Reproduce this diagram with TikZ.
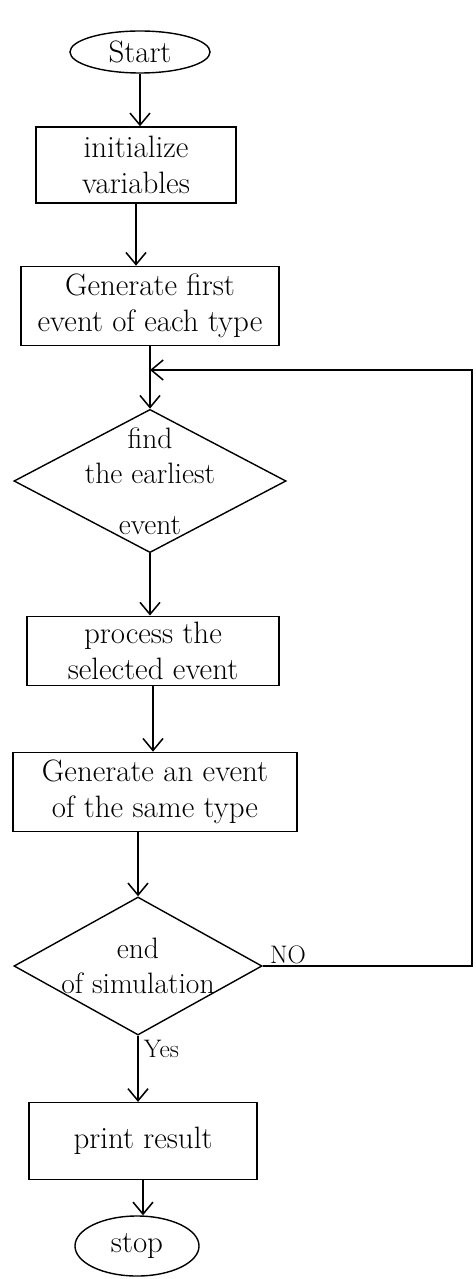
\documentclass[tikz,border=0pt]{standalone}
\usepackage{fontspec}
\usepackage{tikz}
\usetikzlibrary{positioning,arrows.meta,shapes.geometric}

\begin{document}
\begin{tikzpicture}[
    x=0.025cm, y=-0.025cm,
    terminal/.style={ellipse, draw, line width=1pt, inner sep=0pt, font=\fontsize{22}{26}\selectfont},
    process/.style={rectangle, draw, line width=1pt, align=center, inner sep=4pt, font=\fontsize{22}{26}\selectfont},
    decision/.style={diamond, draw, line width=1pt, inner sep=0pt},
    dtext/.style={align=center, inner sep=0pt, font=\fontsize{21}{25}\selectfont},
    flow/.style={line width=1.1pt, -{Straight Barb[length=3mm,width=5mm]}},
    lbl/.style={inner sep=1pt, font=\fontsize{18}{21}\selectfont},
  ]
  \useasboundingbox (0,0) rectangle (475,1279);

  % Terminals
  \node[terminal, minimum width=3.5cm, minimum height=1.05cm] (start) at (140,52) {Start};
  \node[terminal, minimum width=3.1cm, minimum height=1.5cm]  (stop)  at (137,1246) {stop};

  % Process boxes
  \node[process, minimum width=5cm,    minimum height=1.9cm]  (init)  at (136,165)  {initialize\\variables};
  \node[process, minimum width=6.45cm, minimum height=1.98cm] (first) at (150,306)  {Generate first\\event of each type};
  \node[process, minimum width=6.3cm,  minimum height=1.72cm] (proc)  at (153,651)  {process the\\selected event};
  \node[process, minimum width=7.1cm,  minimum height=1.98cm] (next)  at (155,792)  {Generate an event\\of the same type};
  \node[process, minimum width=5.7cm,  minimum height=1.92cm] (print) at (143,1141) {print result};

  % Decisions
  \node[decision, minimum width=6.8cm, minimum height=3.58cm,
        label={[dtext]center:{find\\the earliest\\[4mm]event}}] (find) at (150,481) {};
  \node[decision, minimum width=6.2cm, minimum height=3.45cm,
        label={[dtext]center:{end\\of simulation}}] (endsim) at (138,966) {};

  % Main flow
  \draw[flow] (start) -- (start |- init.north);
  \draw[flow] (init) -- (init |- first.north);
  \draw[flow] (first) -- (find.north);
  \draw[flow] (find.south) -- (find.south |- proc.north);
  \draw[flow] (proc) -- (proc |- next.north);
  \draw[flow] (endsim.north |- next.south) -- (endsim.north);
  \draw[flow] (endsim.south) -- (endsim.south |- print.north);
  \draw[flow] (print) -- (print |- stop.north);

  % Loop back when not finished
  \coordinate (join)   at (150,370);
  \coordinate (corner) at (472,370);
  \draw[flow] (endsim.east) -- (endsim.east -| corner) -- (corner) -- (join);

  % Branch labels
  \node[lbl, above right=0pt and 4pt of endsim.east] (no)  {NO};
  \node[lbl, below right=2pt and 3pt of endsim.south] (yes) {Yes};
\end{tikzpicture}
\end{document}
